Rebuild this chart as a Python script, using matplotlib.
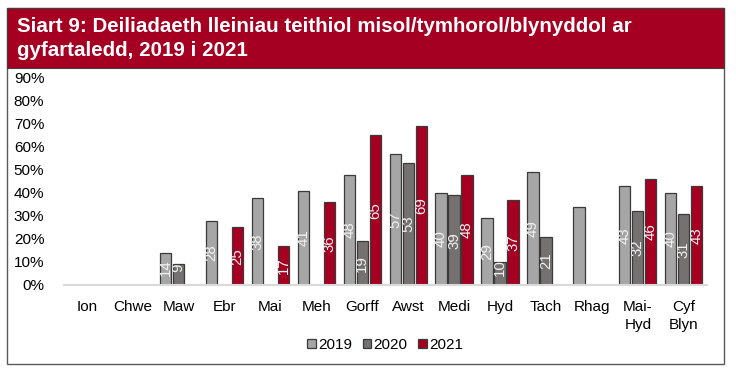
import numpy as np
import matplotlib
matplotlib.use("Agg")
import matplotlib.pyplot as plt
from matplotlib.patches import Rectangle

plt.rcParams["font.family"] = ["Liberation Sans", "DejaVu Sans"]

categories = ["Ion", "Chwe", "Maw", "Ebr", "Mai", "Meh", "Gorff", "Awst",
              "Medi", "Hyd", "Tach", "Rhag", "Mai-\nHyd", "Cyf\nBlyn"]
years = ["2019", "2020", "2021"]
vals_2019 = [np.nan, np.nan, 14, 28, 38, 41, 48, 57, 40, 29, 49, 34, 43, 40]
vals_2020 = [np.nan, np.nan, 9, np.nan, np.nan, np.nan, 19, 53, 39, 10, 21, np.nan, 32, 31]
vals_2021 = [np.nan, np.nan, np.nan, 25, 17, 36, 65, 69, 48, 37, np.nan, np.nan, 46, 43]
# Rhag 2019 has no data label in the source
show_label_2019 = [True] * 11 + [False] + [True] * 2

colors = ["#A6A6A6", "#767171", "#A50021"]
title = "Siart 9: Deiliadaeth lleiniau teithiol misol/tymhorol/blynyddol ar\ngyfartaledd, 2019 i 2021"

fig = plt.figure(figsize=(7.36, 3.74), dpi=100)
ax = fig.add_axes([0.0866, 0.238, 0.8736, 0.5535])

# outer frame and title band
fig.patches.append(Rectangle((0.009, 0.027), 0.975, 0.952, transform=fig.transFigure,
                             fill=False, edgecolor="#595959", linewidth=1.0))
fig.patches.append(Rectangle((0.009, 0.818), 0.975, 0.161, transform=fig.transFigure,
                             facecolor="#A50021", edgecolor="#404040", linewidth=0.8))
fig.text(0.023, 0.898, title, color="white", fontsize=14.8, fontweight="bold",
         va="center", ha="left", linespacing=1.35)

x = np.arange(len(categories))
width = 0.245
step = 0.283
series = [vals_2019, vals_2020, vals_2021]
for i, (vals, col, yr) in enumerate(zip(series, colors, years)):
    pos = x + (i - 1) * step
    v = np.array(vals, dtype=float)
    ax.bar(pos, v, width=width, color=col, edgecolor="#3A3A3A",
           linewidth=0.9, label=yr)
    for j, (p, h) in enumerate(zip(pos, v)):
        if np.isnan(h):
            continue
        if i == 0 and not show_label_2019[j]:
            continue
        ax.text(p, max(h / 2, 7.5), f"{h:.0f}", rotation=90, ha="center", va="center",
                color="#F2F2F2", fontsize=10.8)

ax.set_xlim(-0.5, len(categories) - 0.5)
ax.set_ylim(0, 90)
ax.set_yticks(range(0, 91, 10))
ax.set_yticklabels([f"{t}%" for t in range(0, 91, 10)], fontsize=11)
ax.set_xticks(x)
ax.set_xticklabels(categories, fontsize=11, linespacing=1.3)
ax.tick_params(axis="y", length=0, pad=14)
ax.tick_params(axis="x", length=0, pad=11)
for s in ["top", "right", "left"]:
    ax.spines[s].set_visible(False)
ax.spines["bottom"].set_color("#D9D9D9")
ax.spines["bottom"].set_linewidth(1.5)

ax.legend(loc="center", bbox_to_anchor=(0.5, -0.29), ncol=3, frameon=False,
          fontsize=11, handlelength=0.55, handleheight=0.55, handletextpad=0.15,
          columnspacing=0.7)

fig.savefig("out.png", dpi=100)
